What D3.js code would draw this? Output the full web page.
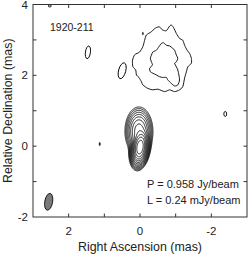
<!DOCTYPE html>
<html>
<head>
<meta charset="utf-8">
<script src="https://cdn.jsdelivr.net/npm/d3@7"></script>
<style>
  body { margin: 0; background: #fff; }
  svg text { font-family: "Liberation Sans", Arial, sans-serif; fill: #222; }
</style>
</head>
<body>
<div id="chart"></div>
<script>
// ---- data ----
var raTicks = [3, 2, 1, 0, -1, -2, -3];
var decTicks = [-2, -1, 0, 1, 2, 3, 4];
var raLabels = [2, 0, -2];
var decLabels = [-2, 0, 2, 4];

// contour levels (mJy/beam), lowest = L, factor 2
var levels = [0.24, 0.48, 0.96, 1.92, 3.84, 7.68, 15.36, 30.72, 61.44, 122.88, 245.76, 491.52];

// model components for the core + inner jet
var compRA = [0.0, 0.03];
var compDec = [-0.03, 0.42];
var compPeak = [958, 50];
var compSigRA = [0.075, 0.12];
var compSigDec = [0.165, 0.21];
var compPA = [-8, 0];

// diffuse northern component, two lowest contours (RA, Dec in mas)
var outerRA = [0.21, 0.15, 0.01, -0.08, -0.13, -0.18, -0.32, -0.41, -0.53, -0.64, -0.74, -0.83, -0.88, -0.94, -1.02, -1.11, -1.20, -1.25, -1.32, -1.39, -1.44, -1.44, -1.34, -1.30, -1.25, -1.20, -1.11, -0.97, -0.83, -0.69, -0.50, -0.36, -0.22, -0.08, -0.04, 0.03, 0.10, 0.12, 0.20, 0.21];
var outerDec = [2.43, 2.58, 2.66, 2.81, 2.99, 3.14, 3.23, 3.32, 3.37, 3.28, 3.26, 3.39, 3.42, 3.35, 3.18, 3.04, 2.99, 2.85, 2.71, 2.62, 2.48, 2.34, 2.24, 2.10, 1.92, 1.68, 1.59, 1.54, 1.59, 1.54, 1.61, 1.59, 1.63, 1.73, 1.82, 1.94, 2.01, 2.15, 2.24, 2.34];
var innerRA = [-0.32, -0.36, -0.46, -0.53, -0.60, -0.66, -0.74, -0.83, -0.92, -0.97, -1.02, -1.06, -1.02, -0.97, -1.02, -1.06, -1.09, -1.11, -1.06, -0.97, -0.88, -0.78, -0.74, -0.64, -0.55, -0.46, -0.36, -0.29, -0.27, -0.35, -0.32, -0.29];
var innerDec = [2.57, 2.66, 2.71, 2.81, 2.90, 2.92, 2.85, 2.83, 2.76, 2.71, 2.57, 2.48, 2.38, 2.34, 2.24, 2.15, 2.01, 1.87, 1.73, 1.70, 1.77, 1.87, 1.94, 1.94, 1.96, 2.01, 2.06, 2.10, 2.20, 2.29, 2.38, 2.48];

// small islands at the lowest level
var islandRA = [1.46, 0.50, -2.39, 1.13, -0.08, 2.53];
var islandDec = [2.65, 2.13, 0.91, 0.06, 3.18, 3.96];
var islandA = [0.07, 0.10, 0.04, 0.012, 0.012, 0.04];
var islandB = [0.18, 0.23, 0.07, 0.045, 0.035, 0.03];
var islandRot = [8, 15, 0, 0, 0, 0];

// restoring beam
var beam = { ra: 2.56, dec: -1.57, a: 0.11, b: 0.24, rot: 10 };

var W = 249, H = 256;
var margin = { top: 4.5, right: 2, bottom: 39, left: 33 };

var svg = d3.select("#chart").append("svg")
    .attr("width", W).attr("height", H);

var x = d3.scaleLinear().domain([3, -3]).range([margin.left, W - margin.right]);
var y = d3.scaleLinear().domain([-2, 4]).range([H - margin.bottom, margin.top]);

// clip to frame
svg.append("clipPath").attr("id", "frame")
  .append("rect")
    .attr("x", x(3)).attr("y", y(4))
    .attr("width", x(-3) - x(3)).attr("height", y(-2) - y(4));

var plot = svg.append("g").attr("clip-path", "url(#frame)");

// ---- core contours from model grid ----
var step = 0.01, ra0 = 1.0, dec0 = -1.5;
var nx = 201, ny = 331;
var grid = new Float64Array(nx * ny);
for (var j = 0; j < ny; j++) {
  for (var i = 0; i < nx; i++) {
    var ra = ra0 - i * step, dec = dec0 + j * step;
    var v = 0;
    for (var c = 0; c < compRA.length; c++) {
      var t = compPA[c] * Math.PI / 180;
      var dx = ra - compRA[c], dy = dec - compDec[c];
      var u = dx * Math.cos(t) - dy * Math.sin(t);
      var w = dx * Math.sin(t) + dy * Math.cos(t);
      v += compPeak[c] * Math.exp(-0.5 * (u * u / (compSigRA[c] * compSigRA[c]) + w * w / (compSigDec[c] * compSigDec[c])));
    }
    grid[i + j * nx] = v;
  }
}

var contours = d3.contours().size([nx, ny]).thresholds(levels)(grid);

var proj = d3.geoTransform({
  point: function(gx, gy) {
    this.stream.point(x(ra0 - (gx - 0.5) * step), y(dec0 + (gy - 0.5) * step));
  }
});
var gpath = d3.geoPath(proj);

plot.append("g").selectAll("path")
  .data(contours)
  .enter().append("path")
    .attr("d", gpath)
    .attr("fill", "none")
    .attr("stroke", "#000")
    .attr("stroke-width", 0.9);

// ---- diffuse component ----
var line = d3.line()
    .x(function(d) { return x(d[0]); })
    .y(function(d) { return y(d[1]); })
    .curve(d3.curveCardinalClosed.tension(0.3));

var diffuse = [d3.zip(outerRA, outerDec), d3.zip(innerRA, innerDec)];
plot.append("g").selectAll("path")
  .data(diffuse)
  .enter().append("path")
    .attr("d", line)
    .attr("fill", "none")
    .attr("stroke", "#000")
    .attr("stroke-width", 0.9);

// ---- islands ----
var islands = islandRA.map(function(r, k) {
  return { ra: r, dec: islandDec[k], a: islandA[k], b: islandB[k], rot: islandRot[k] };
});
plot.append("g").selectAll("ellipse")
  .data(islands)
  .enter().append("ellipse")
    .attr("transform", function(d) { return "translate(" + x(d.ra) + "," + y(d.dec) + ") rotate(" + d.rot + ")"; })
    .attr("rx", function(d) { return Math.abs(x(d.a) - x(0)); })
    .attr("ry", function(d) { return Math.abs(y(d.b) - y(0)); })
    .attr("fill", "none")
    .attr("stroke", "#000")
    .attr("stroke-width", 0.9);

// ---- beam ----
plot.append("ellipse")
    .attr("transform", "translate(" + x(beam.ra) + "," + y(beam.dec) + ") rotate(" + beam.rot + ")")
    .attr("rx", Math.abs(x(beam.a) - x(0)))
    .attr("ry", Math.abs(y(beam.b) - y(0)))
    .attr("fill", "#7a7a7a")
    .attr("stroke", "#000")
    .attr("stroke-width", 0.8);

// ---- frame and ticks ----
svg.append("rect")
    .attr("x", x(3)).attr("y", y(4))
    .attr("width", x(-3) - x(3)).attr("height", y(-2) - y(4))
    .attr("fill", "none").attr("stroke", "#333").attr("stroke-width", 1);

var tl = 3.5;
var ticks = svg.append("g").attr("stroke", "#333").attr("stroke-width", 1);
raTicks.slice(1, -1).forEach(function(t) {
  ticks.append("line").attr("x1", x(t)).attr("x2", x(t)).attr("y1", y(-2)).attr("y2", y(-2) - tl);
  ticks.append("line").attr("x1", x(t)).attr("x2", x(t)).attr("y1", y(4)).attr("y2", y(4) + tl);
});
decTicks.slice(1, -1).forEach(function(t) {
  ticks.append("line").attr("y1", y(t)).attr("y2", y(t)).attr("x1", x(3)).attr("x2", x(3) + tl);
  ticks.append("line").attr("y1", y(t)).attr("y2", y(t)).attr("x1", x(-3)).attr("x2", x(-3) - tl);
});

svg.append("g").selectAll("text")
  .data(raLabels)
  .enter().append("text")
    .attr("x", function(d) { return x(d); })
    .attr("y", y(-2) + 18)
    .attr("text-anchor", "middle")
    .attr("font-size", 11.5)
    .text(function(d) { return d; });

svg.append("g").selectAll("text")
  .data(decLabels)
  .enter().append("text")
    .attr("x", x(3) - 5)
    .attr("y", function(d) { return y(d) + 4; })
    .attr("text-anchor", "end")
    .attr("font-size", 11.5)
    .text(function(d) { return d; });

svg.append("text")
    .attr("x", x(0)).attr("y", 251)
    .attr("text-anchor", "middle")
    .attr("font-size", 12.4)
    .text("Right Ascension (mas)");

svg.append("text")
    .attr("transform", "translate(12," + y(1) + ") rotate(-90)")
    .attr("text-anchor", "middle")
    .attr("font-size", 12.4)
    .text("Relative Declination (mas)");

svg.append("text")
    .attr("x", 50).attr("y", 31)
    .attr("font-size", 10.5)
    .text("1920-211");

svg.append("text")
    .attr("x", 147).attr("y", 188)
    .attr("font-size", 11)
    .text("P = 0.958 Jy/beam");

svg.append("text")
    .attr("x", 147).attr("y", 203.5)
    .attr("font-size", 11)
    .text("L = 0.24 mJy/beam");
</script>
</body>
</html>
